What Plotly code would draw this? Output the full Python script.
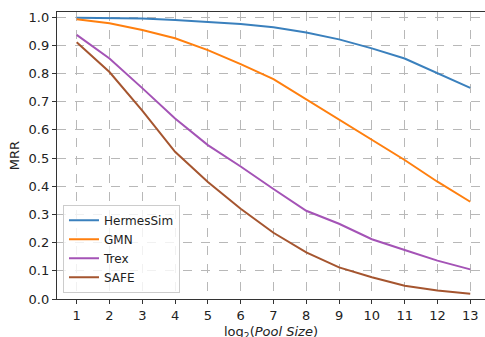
import plotly.graph_objects as go

# log2 of the candidate pool size
pool_log2 = [1, 2, 3, 4, 5, 6, 7, 8, 9, 10, 11, 12, 13]

hermessim = [0.998, 0.997, 0.995, 0.990, 0.983, 0.975, 0.964, 0.945, 0.921, 0.889, 0.853, 0.800, 0.749]
gmn = [0.992, 0.978, 0.954, 0.925, 0.883, 0.833, 0.780, 0.709, 0.635, 0.564, 0.493, 0.416, 0.345]
trex = [0.937, 0.853, 0.748, 0.640, 0.546, 0.470, 0.390, 0.313, 0.267, 0.212, 0.174, 0.136, 0.105]
safe = [0.911, 0.805, 0.668, 0.522, 0.415, 0.320, 0.235, 0.165, 0.112, 0.077, 0.047, 0.030, 0.019]

series = [
    ("HermesSim", hermessim, "#3a80bd"),
    ("GMN", gmn, "#ff7f0e"),
    ("Trex", trex, "#a453b6"),
    ("SAFE", safe, "#a5552f"),
]

y_ticks = [round(i * 0.1, 1) for i in range(11)]

fig = go.Figure()
for name, vals, color in series:
    fig.add_trace(go.Scatter(
        x=pool_log2, y=vals, name=name, mode="lines",
        line=dict(color=color, width=2),
    ))

font = dict(family="DejaVu Sans", size=13, color="#222")

fig.update_layout(
    width=485, height=337,
    margin=dict(l=57, r=0, t=12, b=38),
    paper_bgcolor="white", plot_bgcolor="white",
    font=font,
    showlegend=True,
    legend=dict(
        x=0.014, y=0.022, xanchor="left", yanchor="bottom",
        bgcolor="rgba(255,255,255,0.8)", bordercolor="#cccccc", borderwidth=1,
        font=dict(family="DejaVu Sans", size=12, color="#222"),
        itemwidth=30, tracegroupgap=0,
    ),
    xaxis=dict(
        range=[0.4, 13.45],
        automargin=False,
        tickvals=pool_log2, ticktext=[str(v) for v in pool_log2],
        showgrid=True, gridcolor="#b8b8b8", griddash="dash", gridwidth=1,
        showline=True, linecolor="#333", linewidth=1.3, mirror=True,
        ticks="outside", ticklen=4, tickcolor="#333",
        zeroline=False,
    ),
    yaxis=dict(
        range=[0, 1.018],
        automargin=False,
        tickvals=y_ticks, ticktext=[f"{v:.1f}" for v in y_ticks],
        showgrid=True, gridcolor="#b8b8b8", griddash="dash", gridwidth=1,
        showline=True, linecolor="#333", linewidth=1.3,
        ticks="outside", ticklen=4, tickcolor="#333",
        zeroline=False,
        title=dict(text="MRR", standoff=6,
                   font=dict(family="DejaVu Sans", size=13, color="#222")),
    ),
)

# x-axis label set a little below the tick labels
fig.add_annotation(
    text="log<sub>2</sub>(<i>Pool Size</i>)",
    xref="paper", yref="paper", x=0.5, y=-0.117,
    xanchor="center", yanchor="middle", showarrow=False,
    font=dict(family="DejaVu Sans", size=13, color="#222"),
)

fig.write_html("out.html")
